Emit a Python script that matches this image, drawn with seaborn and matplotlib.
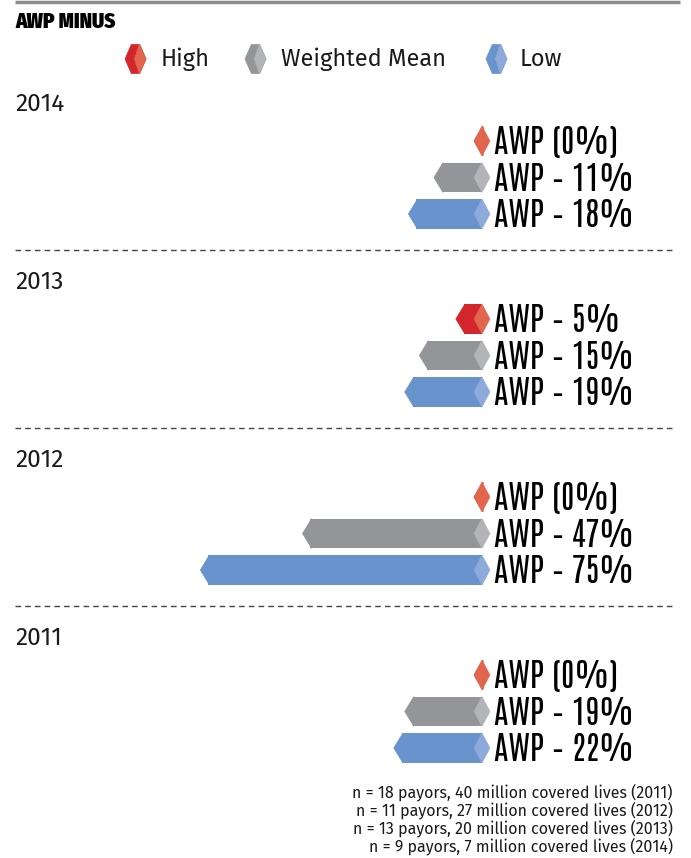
import matplotlib
matplotlib.use("Agg")
import matplotlib.pyplot as plt
import pandas as pd
import seaborn as sns
from matplotlib.patches import Polygon

years = ["2014", "2013", "2012", "2011"]
series = ["High", "Weighted Mean", "Low"]
high = [0, 5, 0, 0]
weighted_mean = [11, 15, 47, 19]
low = [18, 19, 75, 22]
footnotes = [
    "n = 18 payors, 40 million covered lives (2011)",
    "n = 11 payors, 27 million covered lives (2012)",
    "n = 13 payors, 20 million covered lives (2013)",
    "n = 9 payors, 7 million covered lives (2014)",
]

dark_colors = {"High": "#d3262c", "Weighted Mean": "#939598", "Low": "#6993cd"}
light_colors = {"High": "#e2654e", "Weighted Mean": "#b2b4b7", "Low": "#8eaadb"}

sns.set_style("white")
plt.rcParams["font.family"] = ["Fira Sans", "DejaVu Sans"]
LABEL_FONT = ["Antonio", "DejaVu Sans"]
TITLE_FONT = ["Fira Sans Condensed", "DejaVu Sans"]
TXT = "#1a1a1a"

W, H = 691, 858
PX = 3.65          # pixels per percentage point
TIP = 8 / PX       # depth of the pointed ends
RIGHT_PX = 490     # pixel x of the bar tips
ROW = 36.5         # pixels between rows


def label(v):
    return "AWP (0%)" if v == 0 else f"AWP \u2013 {v}%"


fig = plt.figure(figsize=(W / 100, H / 100), dpi=100)
frame = fig.add_axes([0, 0, 1, 1])
frame.set_xlim(0, W)
frame.set_ylim(H, 0)
frame.axis("off")

# header
frame.plot([15, 680], [2, 2], color="#8c8c8c", lw=2.5, solid_capstyle="butt")
frame.text(15, 28, "AWP MINUS", family=TITLE_FONT, fontweight="black",
           fontsize=15, color="black", va="baseline")

# legend
for name, x0, tx in zip(series, [125, 245, 486], [161, 281, 520]):
    w, yc, hh = 21, 59, 14.5
    hexagon = [(x0, yc), (x0 + w * 0.3, yc - hh), (x0 + w * 0.7, yc - hh),
               (x0 + w, yc), (x0 + w * 0.7, yc + hh), (x0 + w * 0.3, yc + hh)]
    light = [(x0 + w * 0.45, yc), (x0 + w * 0.68, yc - hh), (x0 + w * 0.7, yc - hh),
             (x0 + w, yc), (x0 + w * 0.7, yc + hh), (x0 + w * 0.68, yc + hh)]
    frame.add_patch(Polygon(hexagon, closed=True, color=dark_colors[name], lw=0.5))
    frame.add_patch(Polygon(light, closed=True, color=light_colors[name], lw=0.5))
    frame.text(tx, yc, name, fontsize=17, color=TXT, va="center")

xmin = TIP - RIGHT_PX / PX
xmax = xmin + W / PX

for k, year in enumerate(years):
    top_label = 104 + 178 * k
    first_row = top_label + 37
    frame.text(15, top_label, year, fontsize=17.5, color=TXT, va="center")
    if k < len(years) - 1:
        frame.plot([15, 675], [top_label + 146] * 2, color="#444444", lw=1,
                   ls=(0, (4, 3)))

    ax = fig.add_axes([0, 1 - (first_row + 2.6 * ROW) / H, 1, 3.2 * ROW / H])
    df = pd.DataFrame({"series": series,
                       "value": [high[k], weighted_mean[k], low[k]]})
    df["neg"] = -df["value"]
    sns.barplot(data=df, x="neg", y="series", hue="series", palette=dark_colors,
                orient="h", width=0.82, saturation=1, errorbar=None,
                legend=False, linewidth=0, ax=ax)

    for container, name, v in zip(ax.containers, series, df["value"]):
        bar = container[0]
        y0, h = bar.get_y(), bar.get_height()
        yc = y0 + h / 2
        left = min(0, bar.get_width())
        ax.add_patch(Polygon([(left + 0.3, y0), (left - TIP, yc), (left + 0.3, y0 + h)],
                             closed=True, color=dark_colors[name], lw=0.4))
        ax.add_patch(Polygon([(-TIP, yc), (0, y0), (TIP, yc), (0, y0 + h)],
                             closed=True, color=light_colors[name], lw=0.4))
        ax.text(TIP + 4 / PX, yc + 0.04, label(v), family=LABEL_FONT,
                fontsize=23.5, color="black", va="center", ha="left")

    ax.set_xlim(xmin, xmax)
    ax.set_ylim(2.6, -0.6)
    ax.axis("off")

for i, line in enumerate(footnotes):
    frame.text(673, 792 + 18 * i, line, fontsize=11.5, color=TXT, ha="right",
               va="center")

fig.savefig("out.png", dpi=100)
